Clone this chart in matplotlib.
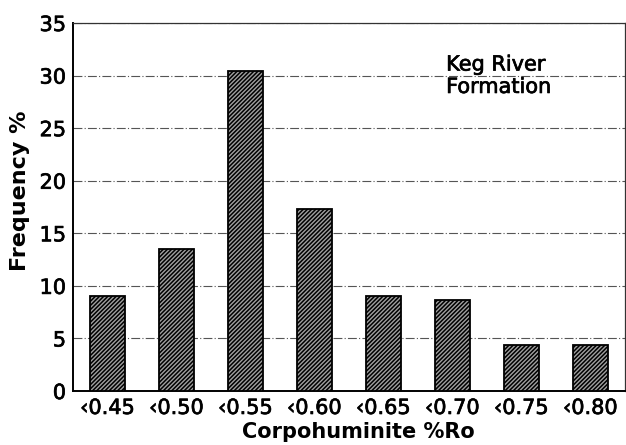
import matplotlib
matplotlib.use("Agg")
import matplotlib.pyplot as plt
import matplotlib.patheffects as pe
import numpy as np

plt.rcParams['font.family'] = ['DejaVu Sans']
plt.rcParams['hatch.linewidth'] = 1.1

# reflectance classes and frequency (%)
classes = ['\u20390.45', '\u20390.50', '\u20390.55', '\u20390.60',
           '\u20390.65', '\u20390.70', '\u20390.75', '\u20390.80']
freq = [9.0, 13.5, 30.4, 17.3, 9.0, 8.7, 4.4, 4.4]
yticks = [0, 5, 10, 15, 20, 25, 30, 35]

fig = plt.figure(figsize=(6.26, 4.45), dpi=100)
ax = fig.add_axes([0.1166, 0.1213, 0.8814, 0.827])

x = np.arange(len(classes))
ax.bar(x, freq, width=0.5, facecolor='#a0a0a0', edgecolor='black',
       hatch='////////', linewidth=1.3, zorder=3)

ax.set_xlim(-0.5, 7.5)
ax.set_ylim(0, 35)
ax.set_yticks(yticks)
ax.set_xticks(x)
ax.set_xticklabels(classes)
ax.tick_params(length=0, labelsize=15, pad=5)

# slightly heavier strokes on the tick numbers
heavy = [pe.withStroke(linewidth=0.5, foreground='black')]
for lab in ax.get_xticklabels() + ax.get_yticklabels():
    lab.set_path_effects(heavy)

ax.yaxis.grid(True, linestyle=(0, (8, 2, 1, 2)), color='#555555', linewidth=0.8)
ax.set_axisbelow(True)

for side in ['left', 'bottom']:
    ax.spines[side].set_linewidth(1.4)
for side in ['top', 'right']:
    ax.spines[side].set_linewidth(0.9)
    ax.spines[side].set_color('#333333')

ax.set_ylabel('Frequency %', fontsize=16, fontweight='bold')
ax.yaxis.set_label_coords(-0.078, 0.545)
ax.set_xlabel('Corpohuminite %Ro', fontsize=15, fontweight='bold')
ax.xaxis.set_label_coords(0.518, -0.085)

ax.text(4.91, 32.0, 'Keg River\nFormation', fontsize=15,
        va='top', ha='left', linespacing=1.15, path_effects=heavy)

fig.savefig('out.png', dpi=100)
